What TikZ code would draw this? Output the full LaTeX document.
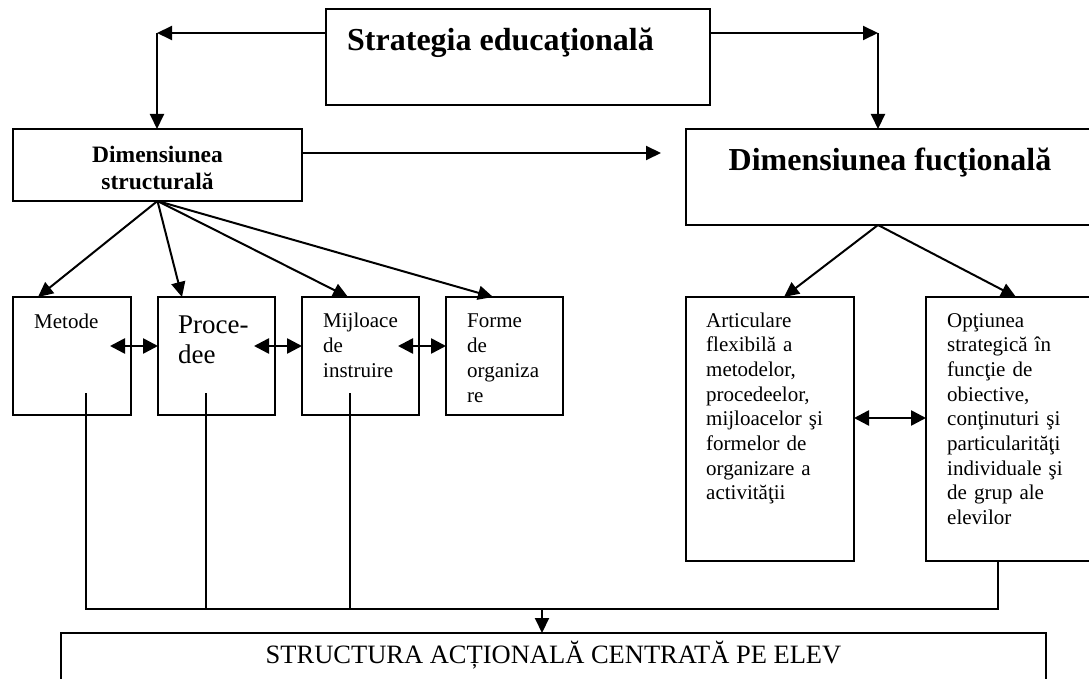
\documentclass[tikz,border=0pt]{standalone}
\usepackage{fontspec}
\setmainfont{Liberation Serif}
\usetikzlibrary{arrows.meta,calc}
\begin{document}
\begin{tikzpicture}[x=1pt,y=-1pt,
  box/.style={draw, line width=1.7pt, inner sep=0pt, outer sep=0pt, anchor=north west},
  link/.style={line width=1.7pt},
  arr/.style={line width=2pt, -{Triangle[length=15pt,width=14pt]}},
  darr/.style={line width=2.6pt, {Triangle[length=15pt,width=15pt]}-{Triangle[length=15pt,width=15pt]}},
  oneline/.style={inner sep=0pt, anchor=base west},
  para/.style={inner sep=0pt, anchor=base west, align=left, text width=150pt},
  small/.style={font=\fontsize{21}{24.7}\selectfont},
]
% page frame
\path[use as bounding box] (0,0) rectangle (1089,679);
\clip (0,0) rectangle (1089,679);
\fill[white] (0,0) rectangle (1089,679);

% boxes
\node[box, minimum width=384pt, minimum height=96pt] (strat) at (326,9) {};
\node[box, minimum width=289pt, minimum height=72pt] (ds) at (13,129) {};
\node[box, minimum width=406pt, minimum height=96pt] (df) at (686,129) {};
\node[box, minimum width=118pt, minimum height=118pt] (metode) at (13,297) {};
\node[box, minimum width=117pt, minimum height=118pt] (proc) at (158,297) {};
\node[box, minimum width=117pt, minimum height=118pt] (mij) at (302,297) {};
\node[box, minimum width=117pt, minimum height=118pt] (forme) at (446,297) {};
\node[box, minimum width=168pt, minimum height=264pt] (art) at (686,297) {};
\node[box, minimum width=166pt, minimum height=264pt] (opt) at (926,297) {};
\node[box, minimum width=985pt, minimum height=60pt] (sa) at (61,633) {};

% texts
\node[oneline, font=\fontsize{32}{38}\selectfont\bfseries] (strattext) at (347,51) {Strategia educaţională};
\node[inner sep=0pt, anchor=base, align=center, text width=250pt,
      font=\fontsize{23.5}{27}\selectfont\bfseries] (dstext) at (157.5,163) {Dimensiunea\\structurală};
\node[inner sep=0pt, anchor=base, font=\fontsize{32}{38}\selectfont\bfseries] (dftext) at (890,171) {Dimensiunea fucţională};
\node[oneline, small] (metodetext) at (34,328) {Metode};
\node[para, font=\fontsize{27}{30}\selectfont] (proctext) at (178,333) {Proce-\\dee};
\node[para, font=\fontsize{21}{25}\selectfont] (mijtext) at (323,327) {Mijloace\\de\\instruire};
\node[para, font=\fontsize{21}{25}\selectfont] (formetext) at (467,327) {Forme\\de\\organiza\\re};
\node[para, small] (arttext) at (706,327) {Articulare\\flexibilă a\\metodelor,\\procedeelor,\\mijloacelor şi\\formelor de\\organizare a\\activităţii};
\node[para, small] (opttext) at (947,327) {Opţiunea\\strategică în\\funcţie de\\obiective,\\conţinuturi şi\\particularităţi\\individuale şi\\de grup ale\\elevilor};
\node[inner sep=0pt, anchor=base, font=\fontsize{26.5}{30}\selectfont] (satext) at (553.5,663) {STRUCTURA ACȚIONALĂ CENTRATĂ PE ELEV};

% top distribution
\coordinate (tl) at (157,33);
\coordinate (tr) at (878,33);
\coordinate (hm) at (661,153);
\draw[arr] (tl -| strat.west) -- (tl);
\draw[arr] (tl) -- (tl |- ds.north);
\draw[arr] (tr -| strat.east) -- (tr);
\draw[arr] (tr) -- (tr |- df.north);
\draw[arr] (hm -| ds.east) -- (hm);

% structural dimension branches
\draw[arr] (ds.south) -- ($(metode.north west)+(25,0)$);
\draw[arr] (ds.south) -- ($(proc.north west)+(24,0)$);
\draw[arr] (ds.south) -- ($(mij.north west)+(46,0)$);
\draw[arr] (ds.south) -- ($(forme.north west)+(47,0)$);

% functional dimension branches
\coordinate (dfs) at ($(df.south west)+(192,0)$);
\draw[arr] (dfs) -- ($(art.north west)+(98,0)$);
\draw[arr] (dfs) -- ($(opt.north west)+(90,0)$);

% mutual links
\draw[darr] ($(metode.north east)+(-21,49)$) -- ($(proc.north west)+(0,49)$);
\draw[darr] ($(proc.north east)+(-21,49)$) -- ($(mij.north west)+(0,49)$);
\draw[darr] ($(mij.north east)+(-21,49)$) -- ($(forme.north west)+(0,49)$);
\draw[darr] ($(art.north east)+(0,121)$) -- ($(opt.north west)+(0,121)$);

% collecting bus
\coordinate (bus) at (542,609);
\draw[link] ($(metode.north west)+(73,96)$) |- ($(opt.south west)+(72,48)$) -- ($(opt.south west)+(72,0)$);
\draw[link] ($(proc.north west)+(48,96)$) -- ($(proc.north west)+(48,312)$);
\draw[link] ($(mij.north west)+(48,96)$) -- ($(mij.north west)+(48,312)$);
\draw[arr] (bus) -- (bus |- sa.north);
\end{tikzpicture}
\end{document}
